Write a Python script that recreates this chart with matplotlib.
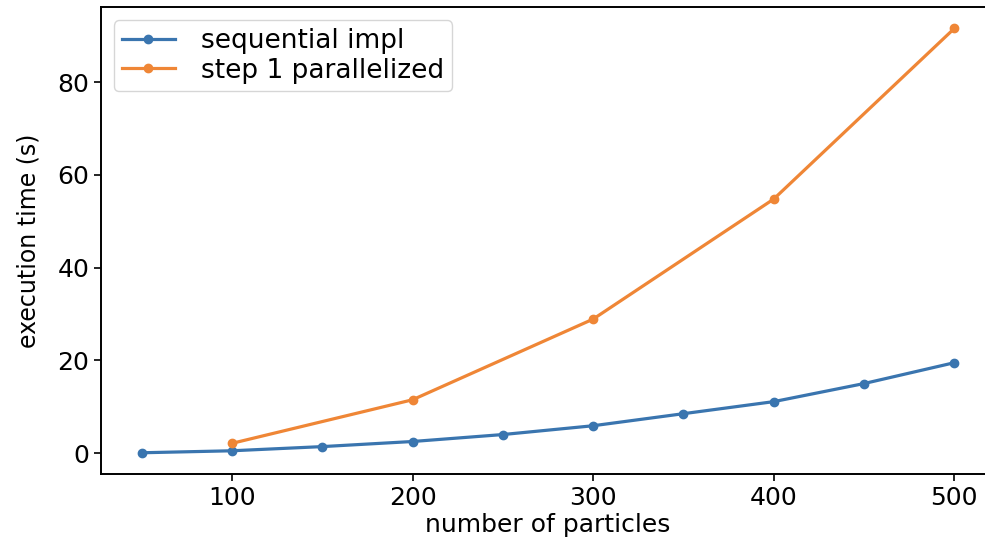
import matplotlib
matplotlib.use("Agg")
import matplotlib.pyplot as plt

# number of particles vs execution time (s)
n_seq = [50, 100, 150, 200, 250, 300, 350, 400, 450, 500]
t_seq = [0.07, 0.5, 1.4, 2.5, 4.0, 5.9, 8.5, 11.1, 15.0, 19.5]

n_par = [100, 200, 300, 400, 500]
t_par = [2.1, 11.5, 28.9, 54.8, 91.6]

blue = "#3a75af"
orange = "#ef8636"

fig = plt.figure(figsize=(9.85, 5.44), dpi=100)
# the reference is cropped on the right, so the axes run a bit past the edge
ax = fig.add_axes([0.1025, 0.1287, 0.9076, 0.858])

ax.plot(n_seq, t_seq, "-o", color=blue, lw=2.3, ms=6, label="sequential impl")
ax.plot(n_par, t_par, "-o", color=orange, lw=2.3, ms=6, label="step 1 parallelized")

ax.set_xticks([100, 200, 300, 400, 500])
ax.set_yticks([0, 20, 40, 60, 80])
ax.tick_params(labelsize=18, length=5, width=1.2)
for s in ax.spines.values():
    s.set_linewidth(1.4)
ax.spines["right"].set_visible(False)

ax.set_xlabel("number of particles", fontsize=18, labelpad=2)
ax.set_ylabel("execution time (s)", fontsize=17, labelpad=12)
ax.legend(loc="upper left", fontsize=19, handlelength=2.0, borderpad=0.3,
          labelspacing=0.12, handletextpad=1.0, borderaxespad=0.5)

fig.savefig("out.png", dpi=100)
